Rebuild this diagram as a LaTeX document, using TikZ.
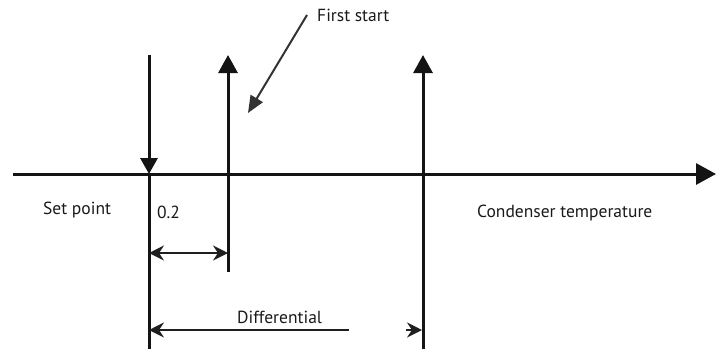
\documentclass[tikz,border=0pt]{standalone}
\usepackage{fontspec}
\setmainfont{PT Sans}
\usetikzlibrary{arrows.meta}
\tikzset{chev/.tip={Stealth[width=15pt,length=15pt,inset=5pt]}}
\begin{document}
\begin{tikzpicture}[x=1pt,y=-1pt,
  lbl/.style={anchor=base west,inner sep=0pt,font=\fontsize{17.5}{20}\selectfont,text=black!90},
  thick line/.style={line width=3pt,draw=black!92},
  thin line/.style={line width=2pt,draw=black!88},
  uptip/.style={-{Triangle[width=19pt,length=18pt]}}]
\useasboundingbox (0,0) rectangle (723,349);
% coordinates
\coordinate (axL) at (13,174);
\coordinate (axR) at (716,174);
\coordinate (spT) at (149,55);
\coordinate (spA) at (149,174);
\coordinate (spB) at (149,349);
\coordinate (fsB) at (228,272);
\coordinate (fsT) at (228,55);
\coordinate (dfB) at (423,349);
\coordinate (dfT) at (423,55);
\coordinate (lblS) at (307,15);
\coordinate (lblE) at (248,113);
\coordinate (aL) at (149,253);
\coordinate (aR) at (228,253);
\coordinate (dL) at (149,330);
\coordinate (dM) at (349,330);
\coordinate (dS) at (406,330);
\coordinate (dR) at (422,330);
% axis
\draw[thick line,-{Triangle[width=21pt,length=20pt]}] (axL) -- (axR);
% set point line
\draw[thick line,-{Triangle[width=17pt,length=16pt]}] (spT) -- (spA);
\draw[thick line] (spA) -- (spB);
% first start line
\draw[thick line,uptip] (fsB) -- (fsT);
% differential line
\draw[thick line,uptip] (dfB) -- (dfT);
% first start pointer
\draw[line width=2pt,draw=black!80,-{Triangle[width=14pt,length=17pt]}] (lblS) -- (lblE);
% 0.2 dimension
\draw[thin line,chev-chev] (aL) -- (aR);
% differential dimension
\draw[thin line,chev-] (dL) -- (dM);
\draw[thin line,-chev] (dS) -- (dR);
% labels
\node[lbl] (tFirst) at (317,21) {First start};
\node[lbl] (tSet) at (43,214) {Set point};
\node[lbl] (tZero) at (157,218) {0.2};
\node[lbl] (tDiff) at (237,323) {Differential};
\node[lbl] (tCond) at (477,217) {Condenser temperature};
\end{tikzpicture}
\end{document}
